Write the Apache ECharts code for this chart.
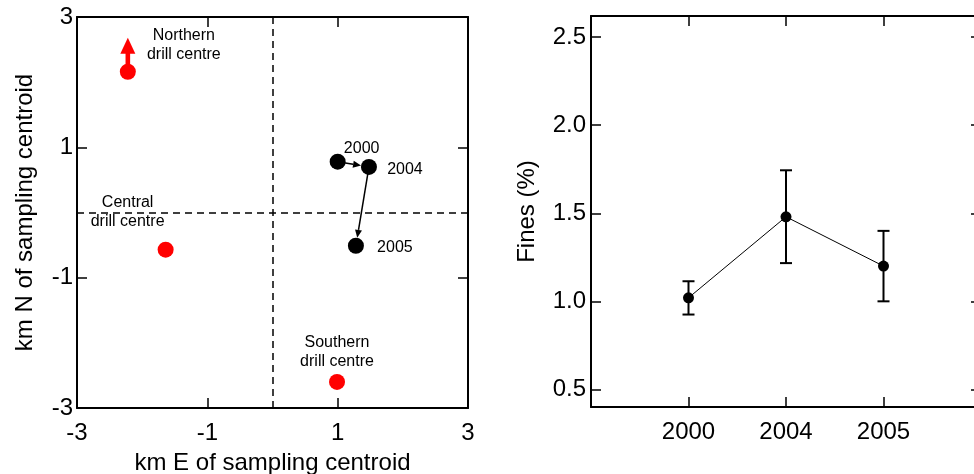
<!DOCTYPE html>
<html><head><meta charset="utf-8">
<script src="https://cdn.jsdelivr.net/npm/echarts@6/dist/echarts.min.js"></script>
<style>html,body{margin:0;padding:0;background:#fff}#c{width:974px;height:474px}</style>
</head><body><div id="c"></div>
<script>
// ---- Left panel data: drill centres (km from sampling centroid) ----
const drillNames = ['Northern\ndrill centre', 'Central\ndrill centre', 'Southern\ndrill centre'];
const drillE = [-2.22, -1.64, 0.99];
const drillN = [2.16, -0.57, -2.60];
// sampling centroid by survey year
const centroidYears = ['2000', '2004', '2005'];
const centroidE = [1.00, 1.48, 1.28];
const centroidN = [0.78, 0.70, -0.51];
const mapTicks = [-3, -1, 1, 3];
const refLines = [0];
// ---- Right panel data ----
const years = ['2000', '2004', '2005'];
const fines = [1.02, 1.48, 1.20];
const finesLow = [0.925, 1.217, 1.00];
const finesHigh = [1.114, 1.744, 1.40];
const finesTicks = [0.5, 1.0, 1.5, 2.0, 2.5];

// ---- styles ----
const FONT = '"Liberation Sans", Arial, Helvetica, sans-serif';
const BLACK = '#000';
const RED = '#ff0000';
const drillLabelOffset = [[56, -27], [-38, -38], [0, -30]];
const yearLabelOffset = [[24, -13], [36, 3], [39, 2]];

function axisCommon(extra) {
  return Object.assign({
    axisLine: { show: true, onZero: false, lineStyle: { color: BLACK, width: 2 } },
    axisTick: { show: true, inside: true, length: 10, lineStyle: { color: BLACK, width: 1.5 } },
    axisLabel: { show: false },
    splitLine: { show: false }
  }, extra);
}
const labelStyle = { show: true, color: BLACK, fontSize: 24, fontFamily: FONT, margin: 13 };
const nameStyle = { color: BLACK, fontSize: 24, fontFamily: FONT };

function renderTrackArrow(params, api) {
  const a = api.coord([api.value(0), api.value(1)]);
  const b = api.coord([api.value(2), api.value(3)]);
  const dx = b[0] - a[0], dy = b[1] - a[1];
  const len = Math.sqrt(dx * dx + dy * dy);
  const ux = dx / len, uy = dy / len;
  const r = 8, head = 8, hw = 3.5;
  const tip = [b[0] - ux * r, b[1] - uy * r];
  const base = [tip[0] - ux * head, tip[1] - uy * head];
  const px = -uy, py = ux;
  return { type: 'group', children: [
    { type: 'line', shape: { x1: a[0], y1: a[1], x2: base[0], y2: base[1] }, style: { stroke: BLACK, lineWidth: 1.5 } },
    { type: 'polygon', shape: { points: [tip, [base[0] + px * hw, base[1] + py * hw], [base[0] - px * hw, base[1] - py * hw]] }, style: { fill: BLACK } }
  ] };
}
function renderNorthArrow(params, api) {
  const p = api.coord([api.value(0), api.value(1)]);
  const headBase = p[1] - 18, tipY = p[1] - 34, hw = 7.5;
  return { type: 'group', children: [
    { type: 'rect', shape: { x: p[0] - 2.3, y: headBase - 1, width: 4.6, height: p[1] - headBase + 1 }, style: { fill: RED } },
    { type: 'polygon', shape: { points: [[p[0], tipY], [p[0] + hw, headBase], [p[0] - hw, headBase]] }, style: { fill: RED } }
  ] };
}
function renderErrorBar(params, api) {
  const lo = api.coord([api.value(0), api.value(1)]);
  const hi = api.coord([api.value(0), api.value(2)]);
  const cw = 6;
  const st = { stroke: BLACK, lineWidth: 2 };
  return { type: 'group', children: [
    { type: 'line', shape: { x1: lo[0], y1: lo[1], x2: hi[0], y2: hi[1] }, style: st },
    { type: 'line', shape: { x1: lo[0] - cw, y1: lo[1], x2: lo[0] + cw, y2: lo[1] }, style: st },
    { type: 'line', shape: { x1: hi[0] - cw, y1: hi[1], x2: hi[0] + cw, y2: hi[1] }, style: st }
  ] };
}

const yearCats = [''].concat(years, ['']);
const isYear = (i, v) => v !== '';

const trackPairs = [];
for (let i = 0; i < centroidE.length - 1; i++) {
  trackPairs.push([centroidE[i], centroidN[i], centroidE[i + 1], centroidN[i + 1]]);
}

const option = {
  animation: false,
  backgroundColor: '#fff',
  textStyle: { fontFamily: FONT },
  grid: [
    { left: 77, top: 17, width: 391, height: 391, outerBoundsMode: 'none', containLabel: false },
    { left: 591, top: 16, width: 390, height: 391, outerBoundsMode: 'none', containLabel: false }
  ],
  xAxis: [
    axisCommon({ gridIndex: 0, type: 'value', min: -3, max: 3, position: 'bottom',
      axisTick: { show: true, inside: true, length: 10, customValues: mapTicks, lineStyle: { color: BLACK, width: 1.5 } },
      axisLabel: Object.assign({ customValues: mapTicks }, labelStyle),
      name: 'km E of sampling centroid', nameLocation: 'middle', nameGap: 43, nameTextStyle: nameStyle }),
    axisCommon({ gridIndex: 0, type: 'value', min: -3, max: 3, position: 'top',
      axisTick: { show: true, inside: true, length: 10, customValues: mapTicks, lineStyle: { color: BLACK, width: 1.5 } } }),
    axisCommon({ gridIndex: 1, type: 'category', data: yearCats, boundaryGap: false, position: 'bottom',
      axisTick: { show: true, inside: true, length: 10, interval: isYear, lineStyle: { color: BLACK, width: 1.5 } },
      axisLabel: Object.assign({ interval: isYear }, labelStyle) }),
    axisCommon({ gridIndex: 1, type: 'category', data: yearCats, boundaryGap: false, position: 'top',
      axisTick: { show: true, inside: true, length: 10, interval: isYear, lineStyle: { color: BLACK, width: 1.5 } } })
  ],
  yAxis: [
    axisCommon({ gridIndex: 0, type: 'value', min: -3, max: 3, position: 'left',
      axisTick: { show: true, inside: true, length: 10, customValues: mapTicks, lineStyle: { color: BLACK, width: 1.5 } },
      axisLabel: Object.assign({}, labelStyle, { customValues: mapTicks, margin: 4 }),
      name: 'km N of sampling centroid', nameLocation: 'middle', nameGap: 40, nameTextStyle: nameStyle }),
    axisCommon({ gridIndex: 0, type: 'value', min: -3, max: 3, position: 'right',
      axisTick: { show: true, inside: true, length: 10, customValues: mapTicks, lineStyle: { color: BLACK, width: 1.5 } } }),
    axisCommon({ gridIndex: 1, type: 'value', min: 0.4, max: 2.62, position: 'left',
      axisTick: { show: true, inside: true, length: 10, customValues: finesTicks, lineStyle: { color: BLACK, width: 1.5 } },
      axisLabel: Object.assign({}, labelStyle, { customValues: finesTicks, margin: 5, formatter: v => Number(v).toFixed(1) }),
      name: 'Fines (%)', nameLocation: 'middle', nameGap: 52, nameTextStyle: nameStyle }),
    axisCommon({ gridIndex: 1, type: 'value', min: 0.4, max: 2.62, position: 'right',
      axisTick: { show: true, inside: true, length: 10, customValues: finesTicks, lineStyle: { color: BLACK, width: 1.5 } } })
  ],
  series: [
    {
      type: 'scatter', xAxisIndex: 0, yAxisIndex: 0, z: 5,
      symbol: 'circle', symbolSize: 16,
      itemStyle: { color: RED, opacity: 1 },
      data: drillE.map((e, i) => ({
        value: [e, drillN[i]],
        label: { show: true, formatter: drillNames[i], position: 'inside', offset: drillLabelOffset[i],
          color: BLACK, fontSize: 16, fontFamily: FONT, lineHeight: 19, align: 'center', verticalAlign: 'middle' }
      })),
      markLine: {
        silent: true, symbol: 'none', label: { show: false },
        lineStyle: { color: BLACK, width: 1.5, type: [7, 5], opacity: 1 },
        data: refLines.map(v => ({ xAxis: v })).concat(refLines.map(v => ({ yAxis: v })))
      }
    },
    {
      type: 'custom', xAxisIndex: 0, yAxisIndex: 0, z: 4,
      renderItem: renderNorthArrow,
      encode: { x: 0, y: 1 },
      data: [[drillE[0], drillN[0]]]
    },
    {
      type: 'custom', xAxisIndex: 0, yAxisIndex: 0, z: 4,
      renderItem: renderTrackArrow,
      encode: { x: [0, 2], y: [1, 3] },
      data: trackPairs
    },
    {
      type: 'scatter', xAxisIndex: 0, yAxisIndex: 0, z: 6,
      symbol: 'circle', symbolSize: 16,
      itemStyle: { color: BLACK, opacity: 1 },
      data: centroidE.map((e, i) => ({
        value: [e, centroidN[i]],
        label: { show: true, formatter: centroidYears[i], position: 'inside', offset: yearLabelOffset[i],
          color: BLACK, fontSize: 16, fontFamily: FONT, align: 'center', verticalAlign: 'middle' }
      }))
    },
    {
      type: 'custom', xAxisIndex: 2, yAxisIndex: 2, z: 4,
      renderItem: renderErrorBar,
      encode: { x: 0, y: [1, 2] },
      data: years.map((y, i) => [y, finesLow[i], finesHigh[i]])
    },
    {
      type: 'line', xAxisIndex: 2, yAxisIndex: 2, z: 5,
      symbol: 'circle', symbolSize: 11, showSymbol: true,
      lineStyle: { color: BLACK, width: 1 },
      itemStyle: { color: BLACK, opacity: 1 },
      data: years.map((y, i) => [y, fines[i]])
    }
  ]
};
const chart = echarts.init(document.getElementById('c'), null, { renderer: 'canvas' });
chart.setOption(option);
</script>
</body></html>
